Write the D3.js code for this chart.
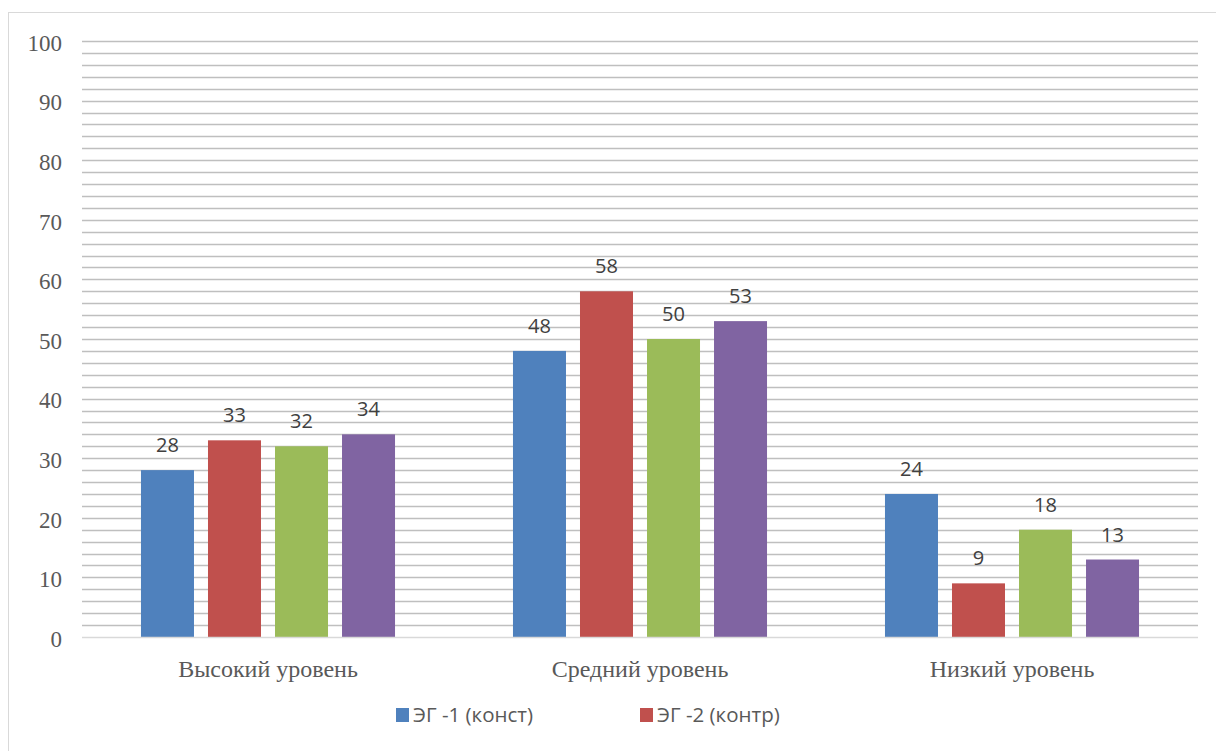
<!DOCTYPE html>
<html>
<head>
<meta charset="utf-8">
<script src="https://cdn.jsdelivr.net/npm/d3@7"></script>
<style>
  html, body { margin: 0; padding: 0; background: #fff; }
  svg { display: block; }
</style>
</head>
<body>
<svg id="chart" width="1216" height="751"></svg>
<script>
const categories = ["Высокий уровень", "Средний уровень", "Низкий уровень"];
const seriesNames = ["ЭГ -1 (конст)", "ЭГ -2 (контр)", "Ряд 3", "Ряд 4"];
const seriesColors = ["#4f81bd", "#c0504d", "#9bbb59", "#8064a2"];
const series1 = [28, 48, 24];
const series2 = [33, 58, 9];
const series3 = [32, 50, 18];
const series4 = [34, 53, 13];
const yTicks = [0, 10, 20, 30, 40, 50, 60, 70, 80, 90, 100];
const legendSeries = [0, 1];

const allSeries = [series1, series2, series3, series4];

const W = 1216, H = 751;
const margin = { left: 82, right: 18, top: 41, bottom: 114 };
const svg = d3.select("#chart");

// outer chart frame
svg.append("rect")
  .attr("x", 8.5).attr("y", 12.5)
  .attr("width", W + 10).attr("height", H + 10)
  .attr("fill", "#fff").attr("stroke", "#d9d9d9").attr("stroke-width", 1);

const x0 = d3.scaleBand()
  .domain(categories)
  .range([margin.left, W - margin.right])
  .paddingInner(0).paddingOuter(0);

const x1 = d3.scaleBand()
  .domain(d3.range(allSeries.length))
  .range([0, x0.bandwidth()])
  .paddingInner(0.209).paddingOuter(0.88);

const y = d3.scaleLinear()
  .domain([0, 100])
  .range([H - margin.bottom, margin.top]);

// gridlines every 2 units
const grid = d3.range(2, 101, 2);
svg.append("g").selectAll("line").data(grid).join("line")
  .attr("x1", margin.left).attr("x2", W - margin.right)
  .attr("y1", d => Math.round(y(d)) + 0.5).attr("y2", d => Math.round(y(d)) + 0.5)
  .attr("stroke", "#bfbfbf").attr("stroke-width", 1.6);

// y axis labels
const yAxis = d3.axisLeft(y).tickValues(yTicks).tickSize(0).tickPadding(20);
const gy = svg.append("g").attr("transform", `translate(${margin.left},0)`).call(yAxis);
gy.select(".domain").remove();
gy.selectAll("text")
  .attr("dy", "0.4em")
  .attr("font-family", "'Liberation Serif', 'Times New Roman', serif")
  .attr("font-size", 23).attr("fill", "#595959");

// bars
const groups = svg.append("g").selectAll("g").data(categories).join("g")
  .attr("transform", d => `translate(${x0(d)},0)`);

groups.selectAll("rect")
  .data((c, i) => allSeries.map((s, k) => ({ k, v: s[i] })))
  .join("rect")
  .attr("x", d => x1(d.k))
  .attr("width", x1.bandwidth())
  .attr("y", d => y(d.v))
  .attr("height", d => y(0) - y(d.v))
  .attr("fill", d => seriesColors[d.k]);

groups.selectAll("text")
  .data((c, i) => allSeries.map((s, k) => ({ k, v: s[i] })))
  .join("text")
  .attr("x", d => x1(d.k) + x1.bandwidth() / 2)
  .attr("y", d => y(d.v) - 18)
  .attr("text-anchor", "middle")
  .attr("font-family", "'Open Sans', 'Noto Sans', sans-serif")
  .attr("font-size", 20).attr("fill", "#404040")
  .text(d => d.v);

// x axis line
svg.append("line")
  .attr("x1", margin.left).attr("x2", W - margin.right)
  .attr("y1", y(0) + 0.5).attr("y2", y(0) + 0.5)
  .attr("stroke", "#d9d9d9").attr("stroke-width", 1.5);

// category labels
const xAxis = d3.axisBottom(x0).tickSize(0).tickPadding(23);
const gx = svg.append("g").attr("transform", `translate(0,${y(0)})`).call(xAxis);
gx.select(".domain").remove();
gx.selectAll("text")
  .attr("font-family", "'Liberation Serif', 'Times New Roman', serif")
  .attr("font-size", 24).attr("fill", "#595959");

// legend
const legendX = [396, 640];
const lg = svg.append("g").selectAll("g").data(legendSeries).join("g")
  .attr("transform", (d, i) => `translate(${legendX[i]},708)`);
lg.append("rect").attr("width", 13).attr("height", 14).attr("fill", d => seriesColors[d]);
lg.append("text").attr("x", 17).attr("y", 14)
  .attr("font-family", "'Open Sans', 'Noto Sans', sans-serif")
  .attr("font-size", 20.5).attr("fill", "#595959")
  .text(d => seriesNames[d]);
</script>
</body>
</html>
